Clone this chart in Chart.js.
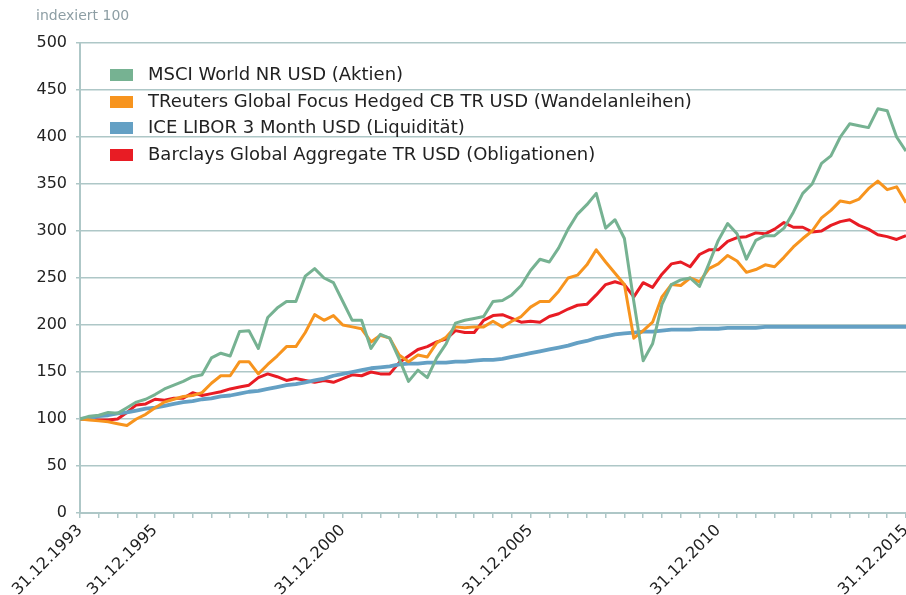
<!DOCTYPE html>
<html>
<head>
<meta charset="utf-8">
<script src="https://cdn.jsdelivr.net/npm/chart.js@4"></script>
<style>
body { margin: 0; background: #fff; font-family: "DejaVu Sans", sans-serif; }
#wrap { position: relative; width: 906px; height: 595px; }
#unit { position: absolute; left: 36px; top: 7px; font-size: 14px; color: #8d9ea4; }
#legend { position: absolute; left: 110px; top: 61px; font-size: 18px; color: #222; }
#legend div { height: 26.5px; line-height: 26.5px; white-space: nowrap; }
#legend span { display: inline-block; width: 23px; height: 12px; margin-right: 15px; vertical-align: -1px; }
</style>
</head>
<body>
<div id="wrap">
  <canvas id="ChartCanvas" width="906" height="595"></canvas>
  <div id="unit">indexiert 100</div>
  <div id="legend"></div>
</div>
<script>
// quarterly values, 31.12.1993 .. 31.12.2015 (index 100)
const seriesNames = [
	'MSCI World NR USD (Aktien)',
	'TReuters Global Focus Hedged CB TR USD (Wandelanleihen)',
	'ICE LIBOR 3 Month USD (Liquidität)',
	'Barclays Global Aggregate TR USD (Obligationen)'
];
const seriesColors = ['#76b292', '#f7941e', '#64a0c4', '#e81c24'];

const msciWorld = [100,103,104,107,106,112,118,121,126,132, 136,140,145,147,165,170,167,193,194,175,
	208,218,225,225,252,260,250,245,225,205, 205,175,190,186,164,140,152,144,165,180,
	202,205,207,209,225,226,232,242,258,270, 267,282,302,318,328,340,303,312,292,225,
	162,180,222,243,248,250,241,265,290,308, 297,270,290,295,295,303,320,340,350,372,
	380,400,414,412,410,430,428,400,385];
const convertibles = [100,99,98,97,95,93,100,105,112,118, 121,124,125,128,138,146,146,161,161,148,
	158,167,177,177,192,211,205,210,200,198, 196,182,189,186,168,161,168,166,181,187,
	198,197,198,198,204,198,204,209,219,225, 225,236,250,253,264,280,267,255,243,186,
	194,203,230,243,242,250,246,260,265,274, 268,256,259,264,262,272,283,292,300,314,
	322,332,330,334,345,353,344,347,330];
const libor = [100,101,103,104,106,107,109,111,112,114, 116,118,119,121,122,124,125,127,129,130,
	132,134,136,137,139,141,143,146,148,150, 152,154,155,156,158,159,159,160,160,160,
	161,161,162,163,163,164,166,168,170,172, 174,176,178,181,183,186,188,190,191,192,
	193,193,194,195,195,195,196,196,196,197, 197,197,197,198,198,198,198,198,198,198,
	198,198,198,198,198,198,198,198,198];
const bonds = [100,100,99,99,100,107,115,116,121,120, 122,122,128,125,127,129,132,134,136,144,
	148,145,141,143,141,139,141,139,143,147, 146,150,148,148,160,167,174,177,182,185,
	194,192,192,205,210,211,207,203,204,203, 209,212,217,221,222,232,243,246,243,230,
	245,240,254,265,267,262,275,280,280,289, 293,294,298,297,302,309,304,304,299,300,
	306,310,312,306,302,296,294,291,295];

const xTickPos = [0, 8, 28, 48, 68, 88];
const xTickText = ['31.12.1993', '31.12.1995', '31.12.2000', '31.12.2005', '31.12.2010', '31.12.2015'];

const gridColor = '#aec7c7';

function toPoints(arr) {
	return arr.map(function (v, i) { return { x: i, y: v }; });
}

function buildLegend() {
	let html = '';
	for (let i = 0; i < seriesNames.length; i++) {
		html += '<div><span style="background:' + seriesColors[i] + '"></span>' + seriesNames[i] + '</div>';
	}
	document.getElementById('legend').innerHTML = html;
}

function drawChart() {
	Chart.defaults.font.family = '"DejaVu Sans", sans-serif';
	let allData = [msciWorld, convertibles, libor, bonds];
	let widths = [3, 3, 3.8, 3];
	let datasets = allData.map(function (d, i) {
		return {
			label: seriesNames[i],
			data: toPoints(d),
			borderColor: seriesColors[i],
			backgroundColor: seriesColors[i],
			borderWidth: widths[i],
			pointRadius: 0,
			tension: 0,
			borderJoinStyle: 'round'
		};
	});
	var ctx = document.getElementById('ChartCanvas').getContext('2d');
	var chart = new Chart(ctx, {
		type: 'line',
		data: { datasets: datasets },
		options: {
			responsive: false,
			animation: false,
			layout: { padding: { top: 43, right: 0, left: 0, bottom: 0 } },
			plugins: { legend: { display: false }, tooltip: { enabled: false } },
			scales: {
				x: {
					type: 'linear', min: 0, max: 88,
					grid: { drawOnChartArea: false, drawTicks: true, tickLength: 5, color: gridColor, lineWidth: 1.5 },
					border: { color: gridColor, width: 2 },
					ticks: {
						stepSize: 2, autoSkip: false, minRotation: 45, maxRotation: 45,
						color: '#222', font: { size: 16 }, padding: 3,
						callback: function (v) {
							let k = xTickPos.indexOf(v);
							return k >= 0 ? xTickText[k] : '';
						}
					},
					afterFit: function (s) { s.height = 82; s.paddingRight = 0; s.paddingLeft = 0; }
				},
				y: {
					min: 0, max: 500,
					grid: { color: gridColor, lineWidth: 1.5, tickLength: 4 },
					border: { color: gridColor, width: 2 },
					ticks: { stepSize: 50, color: '#222', font: { size: 16 }, padding: 9 },
					afterFit: function (s) { s.width = 80; }
				}
			}
		}
	});
}

buildLegend();
drawChart();
</script>
</body>
</html>
